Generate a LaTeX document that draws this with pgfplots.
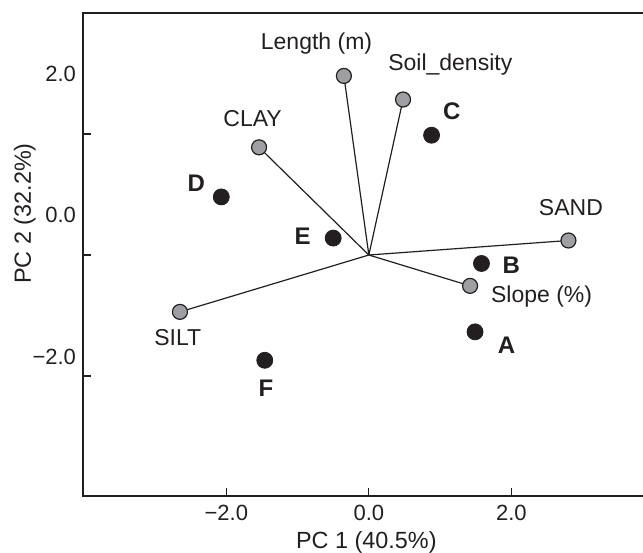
\documentclass[border=0pt]{standalone}
\usepackage{fontspec}
\setmainfont{Liberation Sans}
\usepackage{pgfplots}
\pgfplotsset{compat=1.18}
\definecolor{vargrey}{RGB}{158,159,163}
\definecolor{ink}{RGB}{35,31,32}
\begin{document}
\begin{tikzpicture}
\begin{axis}[
 scale only axis, width=280pt, height=241.5pt,
 xmin=-4.01, xmax=3.846, ymin=-3.983, ymax=4.0,
 axis line style={draw=none},
 tick pos=left,
 xtick={-2,0,2}, xticklabels={−2.0,0.0,2.0},
 ytick={-2,0,2}, yticklabels={},
 extra y ticks={2.99,0.66,-1.69},
 extra y tick labels={2.0,0.0,−2.0},
 extra y tick style={major tick length=0pt, tick style={draw=none}},
 tick style={ink, line width=0.6pt},
 major tick length=4pt,
 ticklabel style={font=\fontsize{11}{13}\selectfont, text=ink},
 xticklabel style={yshift=-1pt},
 clip=false,
]
\coordinate (bl) at (rel axis cs:0,0);
\coordinate (tr) at (rel axis cs:1,1);
\draw[ink, line width=0.9pt] (rel axis cs:1,1) -- (rel axis cs:0,1) -- (rel axis cs:0,0) -- (rel axis cs:1,0);
% loading vectors
\addplot[ink, line width=0.6pt, no marks] coordinates {(0,0) (-0.35,2.96)};
\addplot[ink, line width=0.6pt, no marks] coordinates {(0,0) (0.48,2.57)};
\addplot[ink, line width=0.6pt, no marks] coordinates {(0,0) (-1.54,1.78)};
\addplot[ink, line width=0.6pt, no marks] coordinates {(0,0) (2.80,0.24)};
\addplot[ink, line width=0.6pt, no marks] coordinates {(0,0) (1.42,-0.51)};
\addplot[ink, line width=0.6pt, no marks] coordinates {(0,0) (-2.65,-0.94)};
% variable points
\addplot[only marks, mark=*, mark size=3.75pt, mark options={fill=vargrey, draw=ink, line width=0.6pt}]
 coordinates {(-0.35,2.96) (0.48,2.57) (-1.54,1.78) (2.80,0.24) (1.42,-0.51) (-2.65,-0.94)};
% observation points
\addplot[only marks, mark=*, mark size=4pt, mark options={fill=ink, draw=ink}]
 coordinates {(0.88,1.98) (-0.50,0.28) (-2.07,0.96) (-1.46,-1.74) (1.49,-1.27) (1.58,-0.14)};
% variable labels
\begin{scope}[every node/.style={font=\fontsize{11.5}{13}\selectfont, text=ink, inner sep=0pt}]
\node at (axis cs:-0.734,3.50) {Length (m)};
\node[anchor=west] at (axis cs:0.267,3.14) {Soil\_density};
\node at (axis cs:-1.63,2.26) {CLAY};
\node at (axis cs:2.835,0.78) {SAND};
\node[anchor=west] at (axis cs:1.71,-0.69) {Slope (\%)};
\node at (axis cs:-2.68,-1.36) {SILT};
\end{scope}
\begin{scope}[every node/.style={font=\fontsize{12}{14}\selectfont\bfseries, text=ink, inner sep=0pt}]
\node at (axis cs:-2.42,1.19) {D};
\node at (axis cs:-0.93,0.31) {E};
\node at (axis cs:1.165,2.37) {C};
\node at (axis cs:2.0,-0.165) {B};
\node at (axis cs:1.93,-1.49) {A};
\node at (axis cs:-1.445,-2.20) {F};
\end{scope}
\node[font=\fontsize{11.7}{13}\selectfont, text=ink] at (axis description cs:0.506,-0.0952) {PC 1 (40.5\%)};
\node[font=\fontsize{11.7}{13}\selectfont, text=ink, rotate=90] at (axis description cs:-0.104,0.585) {PC 2 (32.2\%)};
\end{axis}
\pgfresetboundingbox
\path[use as bounding box] ([shift={(-41.5pt,-28pt)}]bl) rectangle ([shift={(0pt,6.5pt)}]tr);
\end{tikzpicture}
\end{document}
